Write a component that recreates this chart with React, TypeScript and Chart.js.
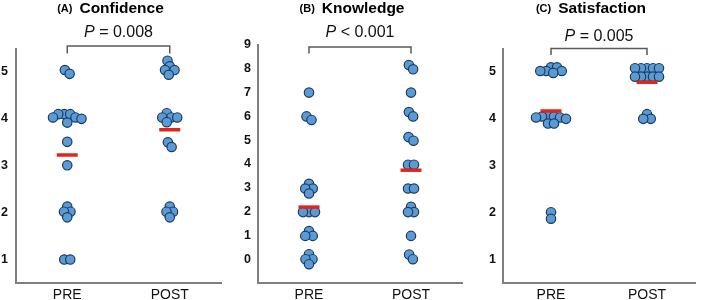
import { useEffect, useRef } from 'react';
import { Chart, registerables } from 'chart.js';

Chart.register(...registerables);

const FAMILY = '"Liberation Sans", Arial, Helvetica, sans-serif';

// ---------- data ----------
const categories = ['PRE', 'POST'];

const panelLetters = ['(A)', '(B)', '(C)'];
const panelTitles = ['Confidence', 'Knowledge', 'Satisfaction'];
const pLabels = ['= 0.008', '< 0.001', '= 0.005'];

const confidencePre = [5.04, 4.96, 4.1, 4.1, 4.1, 4.03, 4.03, 4.0, 3.92, 3.51, 3.01, 2.13, 2.02, 2.02, 1.9, 1.0, 1.0];
const confidencePost = [5.24, 5.12, 5.04, 5.04, 4.94, 4.12, 4.03, 4.03, 4.03, 3.93, 3.5, 3.4, 2.13, 2.02, 2.02, 1.9];
const confidenceMeans = [3.23, 3.77];
const confidenceTicks = [1, 2, 3, 4, 5];

const knowledgePre = [7.0, 6.0, 5.85, 3.17, 2.97, 2.97, 2.76, 1.98, 1.98, 1.98, 1.18, 0.98, 0.98, 0.21, 0.0, 0.0, -0.21];
const knowledgePost = [8.16, 7.98, 7.0, 6.18, 6.0, 5.13, 4.98, 3.97, 3.97, 2.97, 2.97, 2.2, 1.98, 1.98, 0.98, 0.2, 0.0];
const knowledgeMeans = [2.19, 3.74];
const knowledgeTicks = [0, 1, 2, 3, 4, 5, 6, 7, 8, 9];

const satisfactionPre = [5.1, 5.1, 5.02, 5.02, 5.02, 4.98, 4.07, 4.05, 4.05, 4.03, 4.03, 4.0, 3.9, 3.9, 2.01, 1.87];
const satisfactionPost = [5.08, 5.08, 5.08, 5.08, 5.08, 4.9, 4.9, 4.9, 4.9, 4.9, 4.1, 4.0, 4.0];
const satisfactionMeans = [4.17, 4.78];
const satisfactionTicks = [1, 2, 3, 4, 5];

// ---------- layout (not data) ----------
type PanelCfg = {
  idx: number;
  pre: number[];
  post: number[];
  means: number[];
  ticks: number[];
  yMin: number;
  yMax: number;
  left: number;
  width: number;
  axisLeft: number;
  padRight: number;
  padTop: number;
  tickPad: number;
  pBase: number;
  bTop: number;
  bBot: number;
};

const panels: PanelCfg[] = [
  { idx: 0, pre: confidencePre, post: confidencePost, means: confidenceMeans, ticks: confidenceTicks, yMin: 0.5, yMax: 5.5, left: 0, width: 236, axisLeft: 16, padRight: 15, padTop: 48.5, tickPad: 8, pBase: 36.5, bTop: 46, bBot: 53.5 },
  { idx: 1, pre: knowledgePre, post: knowledgePost, means: knowledgeMeans, ticks: knowledgeTicks, yMin: -1, yMax: 9, left: 236, width: 240, axisLeft: 22, padRight: 4, padTop: 45, tickPad: 7, pBase: 37, bTop: 47, bBot: 53.5 },
  { idx: 2, pre: satisfactionPre, post: satisfactionPost, means: satisfactionMeans, ticks: satisfactionTicks, yMin: 0.5, yMax: 5.5, left: 476, width: 233, axisLeft: 27, padRight: 1, padTop: 48.5, tickPad: 7, pBase: 41, bTop: 48.5, bBot: 55 },
];

// beeswarm offsets in pixel space
function beeswarm(ys: number[], d: number): number[] {
  const placed: { x: number; y: number }[] = [];
  for (const y of ys) {
    let x = 0;
    for (let k = 0; k < 4000; k++) {
      const c = (k % 2 === 1 ? 1 : -1) * Math.ceil(k / 2) * 0.25;
      if (placed.every((p) => Math.hypot(p.x - c, p.y - y) >= d - 1e-6)) {
        x = c;
        break;
      }
    }
    placed.push({ x, y });
  }
  const n = placed.length;
  const parent = placed.map((_, i) => i);
  const find = (i: number): number => (parent[i] === i ? i : (parent[i] = find(parent[i])));
  for (let i = 0; i < n; i++) {
    for (let j = i + 1; j < n; j++) {
      if (Math.hypot(placed[i].x - placed[j].x, placed[i].y - placed[j].y) < d + 1.5) {
        parent[find(i)] = find(j);
      }
    }
  }
  const mins: Record<number, number> = {};
  const maxs: Record<number, number> = {};
  for (let i = 0; i < n; i++) {
    const r = find(i);
    mins[r] = Math.min(mins[r] ?? Infinity, placed[i].x);
    maxs[r] = Math.max(maxs[r] ?? -Infinity, placed[i].x);
  }
  return placed.map((p, i) => {
    const r = find(i);
    return p.x - (mins[r] + maxs[r]) / 2;
  });
}

const swarmPlugin = {
  id: 'swarm',
  afterDatasetsUpdate(chart: any) {
    const xs = chart.scales.x;
    chart.data.datasets.forEach((ds: any, di: number) => {
      if (!ds.swarm) return;
      const meta = chart.getDatasetMeta(di);
      const ys = meta.data.map((el: any) => el.y);
      const offs = beeswarm(ys, 6);
      meta.data.forEach((el: any, i: number) => {
        el.x = xs.getPixelForValue(ds.group) + offs[i];
      });
    });
  },
};

function makeAnnotPlugin(cfg: PanelCfg) {
  return {
    id: 'annot',
    afterDraw(chart: any) {
      const ctx = chart.ctx as CanvasRenderingContext2D;
      const { left, right } = chart.chartArea;
      const xs = chart.scales.x;
      const cx = (left + right) / 2;
      ctx.save();
      ctx.fillStyle = '#000';
      ctx.textBaseline = 'alphabetic';
      ctx.textAlign = 'left';
      // title
      const letter = panelLetters[cfg.idx];
      const title = panelTitles[cfg.idx];
      ctx.font = `bold 11px ${FAMILY}`;
      const wL = ctx.measureText(letter).width;
      ctx.font = `bold 15.5px ${FAMILY}`;
      const wT = ctx.measureText(title).width;
      const gap = 7;
      let x0 = cx - 8 - (wL + gap + wT) / 2;
      ctx.font = `bold 11px ${FAMILY}`;
      ctx.fillText(letter, x0, 11.5);
      ctx.font = `bold 15.5px ${FAMILY}`;
      ctx.fillText(title, x0 + wL + gap, 12.5);
      // p value
      const rest = ' ' + pLabels[cfg.idx];
      ctx.font = `italic 16px ${FAMILY}`;
      const wP = ctx.measureText('P').width;
      ctx.font = `16px ${FAMILY}`;
      const wR = ctx.measureText(rest).width;
      x0 = cx - (wP + wR) / 2;
      ctx.fillStyle = '#111';
      ctx.font = `italic 16px ${FAMILY}`;
      ctx.fillText('P', x0, cfg.pBase);
      ctx.font = `16px ${FAMILY}`;
      ctx.fillText(rest, x0 + wP, cfg.pBase);
      // bracket
      const x1 = xs.getPixelForValue(0);
      const x2 = xs.getPixelForValue(1);
      ctx.strokeStyle = '#5a5a5a';
      ctx.lineWidth = 1.5;
      ctx.beginPath();
      ctx.moveTo(x1, cfg.bBot);
      ctx.lineTo(x1, cfg.bTop);
      ctx.lineTo(x2, cfg.bTop);
      ctx.lineTo(x2, cfg.bBot);
      ctx.stroke();
      ctx.restore();
    },
  };
}

function Panel({ cfg }: { cfg: PanelCfg }) {
  const ref = useRef<HTMLCanvasElement>(null);
  useEffect(() => {
    if (!ref.current) return;
    const dotStyle = {
      backgroundColor: '#5b9bd5',
      borderColor: '#1d3b5f',
      borderWidth: 1.2,
      pointRadius: 4.7,
      pointHoverRadius: 4.7,
    };
    const chart = new Chart(ref.current, {
      type: 'scatter',
      data: {
        datasets: [
          {
            data: cfg.means.map((m, i) => ({ x: i, y: m })),
            pointStyle: 'line',
            pointRadius: 10.5,
            pointHoverRadius: 10.5,
            borderColor: '#e1251b',
            backgroundColor: '#e1251b',
            borderWidth: 3.5,
          } as any,
          { data: cfg.pre.map((v) => ({ x: 0, y: v })), swarm: true, group: 0, ...dotStyle } as any,
          { data: cfg.post.map((v) => ({ x: 1, y: v })), swarm: true, group: 1, ...dotStyle } as any,
        ],
      },
      options: {
        responsive: false,
        animation: false,
        events: [],
        layout: { padding: { top: cfg.padTop, right: cfg.padRight, left: 0, bottom: 0 } },
        plugins: { legend: { display: false }, tooltip: { enabled: false }, title: { display: false } },
        scales: {
          x: {
            type: 'linear',
            min: -0.5,
            max: 1.5,
            afterBuildTicks: (s: any) => {
              s.ticks = categories.map((_, i) => ({ value: i }));
            },
            afterFit: (s: any) => {
              s.height = 17;
            },
            ticks: {
              callback: (v: any) => categories[v as number] ?? '',
              font: { family: FAMILY, size: 14 },
              color: '#111',
              padding: 4,
              maxRotation: 0,
              autoSkip: false,
            },
            grid: { display: false, drawTicks: false },
            border: { display: true, color: '#7f7f7f', width: 2 },
          },
          y: {
            type: 'linear',
            min: cfg.yMin,
            max: cfg.yMax,
            afterBuildTicks: (s: any) => {
              s.ticks = cfg.ticks.map((v) => ({ value: v }));
            },
            afterFit: (s: any) => {
              s.width = cfg.axisLeft;
            },
            ticks: {
              font: { family: FAMILY, size: 12.5, weight: 'bold' },
              color: '#111',
              padding: cfg.tickPad,
            },
            grid: { display: false, drawTicks: false },
            border: { display: true, color: '#7f7f7f', width: 2 },
          },
        },
      } as any,
      plugins: [swarmPlugin as any, makeAnnotPlugin(cfg) as any],
    });
    return () => chart.destroy();
  }, [cfg]);
  return (
    <div style={{ position: 'absolute', left: cfg.left, top: 0, width: cfg.width, height: 300 }}>
      <canvas ref={ref} width={cfg.width} height={300} style={{ width: cfg.width, height: 300, display: 'block' }} />
    </div>
  );
}

export default function App() {
  return (
    <div style={{ position: 'absolute', left: 0, top: 0, width: 709, height: 300, background: '#fff', overflow: 'hidden' }}>
      {panels.map((p) => (
        <Panel key={p.idx} cfg={p} />
      ))}
    </div>
  );
}
